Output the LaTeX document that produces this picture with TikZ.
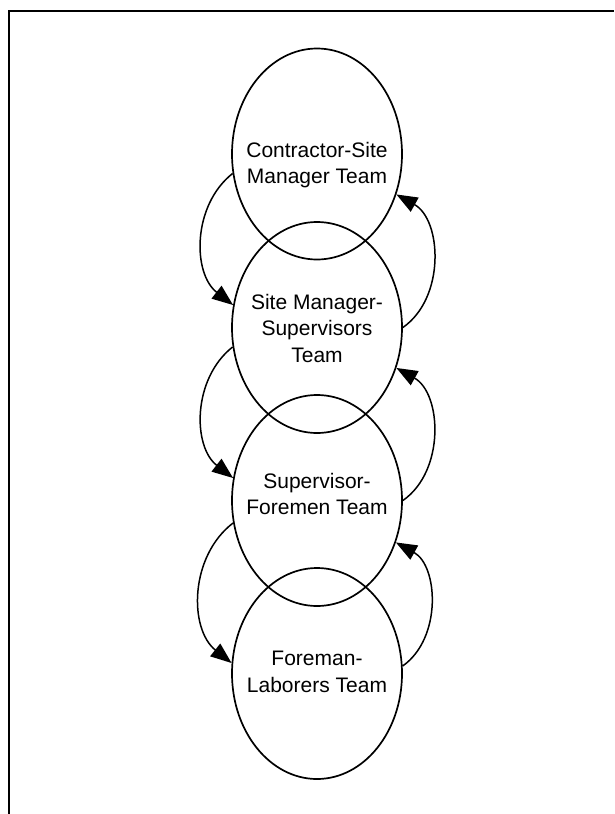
\documentclass[tikz,border=0pt]{standalone}
\usepackage{fontspec}
\setmainfont{Liberation Sans}
\usetikzlibrary{shapes.geometric,arrows.meta}
\begin{document}
\begin{tikzpicture}[x=1pt,y=1pt,
  team/.style={ellipse, draw, line width=1.7pt, minimum width=170pt, minimum height=211pt, inner sep=0pt},
  teamtext/.style={align=center, font=\fontsize{21}{26.5}\selectfont, inner sep=0pt},
  flow/.style={line width=1.5pt, -{Triangle[length=21pt,width=16pt]}, bend right=52}
]
\useasboundingbox (0,0) rectangle (614,-814);
% page frame (top and left edges)
\draw[line width=2.2pt] (9,-814) -- (9,-11) -- (614,-11);

% the four teams
\node[team] (e1) at (317,-154) {};
\node[team] (e2) at (317,-327.5) {};
\node[team] (e3) at (317,-500.5) {};
\node[team] (e4) at (317,-673.5) {};

\node[teamtext] (t1) at (317,-165) {Contractor-Site\\Manager Team};
\node[teamtext] (t2) at (317,-328) {Site Manager-\\Supervisors\\Team};
\node[teamtext] (t3) at (317,-494) {Supervisor-\\Foremen Team};
\node[teamtext] (t4) at (317,-672) {Foreman-\\Laborers Team};

% downward links on the left
\draw[flow] (e1.193) to (e2.165);
\draw[flow] (e2.193) to (e3.165);
\draw[flow] (e3.195) to (e4.173);

% upward links on the right
\draw[flow, bend right=58] (e2.0) to (e1.333);
\draw[flow, bend right=58] (e3.0) to (e2.333);
\draw[flow, bend right=58] (e4.5) to (e3.332);
\end{tikzpicture}
\end{document}
